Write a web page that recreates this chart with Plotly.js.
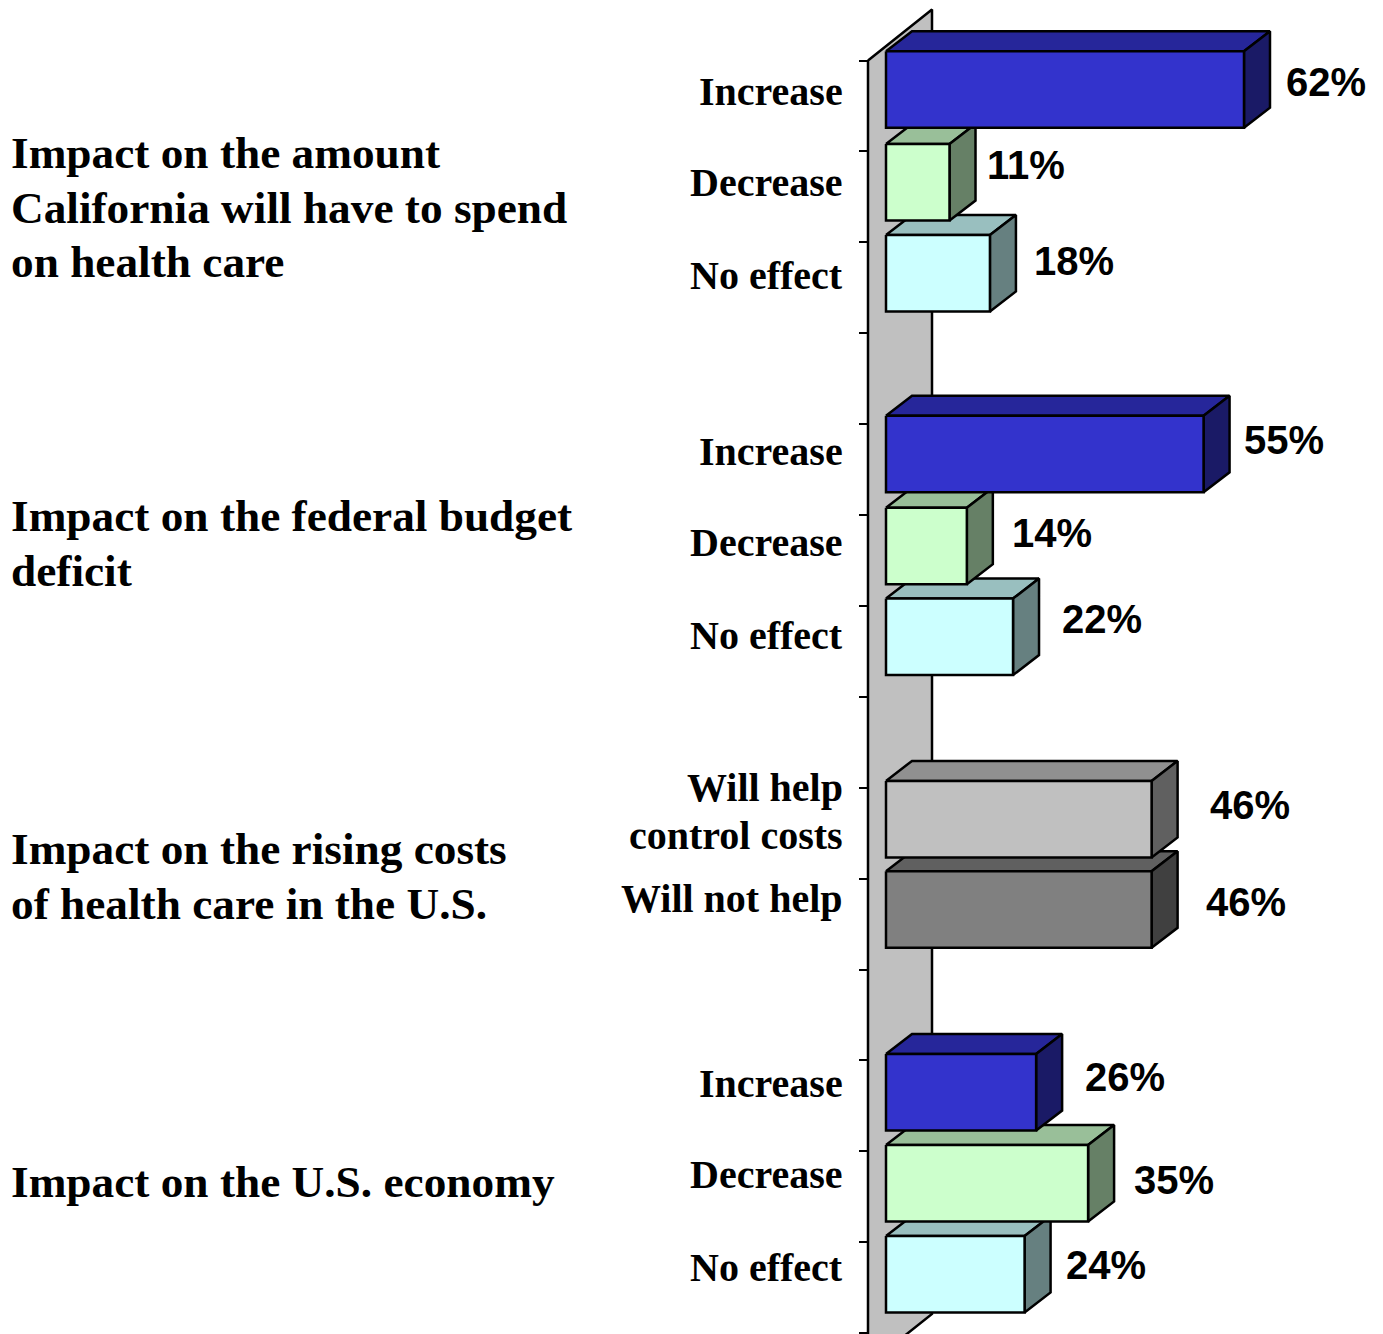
<!DOCTYPE html>
<html>
<head>
<meta charset="utf-8">
<style>html,body{margin:0;padding:0;background:#fff}#chart{width:1383px;height:1334px}</style>
<script src="https://cdn.plot.ly/plotly-3.0.1.min.js"></script>
</head>
<body>
<div id="chart"></div>
<script>
// ---- data ----
var rows    = [0, 1, 2, 4, 5, 6, 8, 9, 11, 12, 13];
var values  = [62, 11, 18, 55, 14, 22, 46, 46, 26, 35, 24];
var kinds   = ["up", "down", "none", "up", "down", "none", "help", "nohelp", "up", "down", "none"];
var titleLines = [
  ["Impact on the amount", 153], ["California will have to spend", 208], ["on health care", 262],
  ["Impact on the federal budget", 516.5], ["deficit", 571],
  ["Impact on the rising costs", 849], ["of health care in the U.S.", 904],
  ["Impact on the U.S. economy", 1182]
];
var catLabels = [
  ["Increase", 91.5], ["Decrease", 183], ["No effect", 276],
  ["Increase", 452], ["Decrease", 542.5], ["No effect", 636],
  ["Will help", 787.5], ["control costs", 836], ["Will not help", 898.5],
  ["Increase", 1083.5], ["Decrease", 1174.5], ["No effect", 1267.5]
];
// value label centres on the page, one per bar
var valueLabelX = [1326, 1026, 1074, 1284, 1052, 1102, 1250, 1246, 1125, 1174, 1106];
var valueLabelY = [82, 165, 261, 440, 533, 619, 805, 902, 1077, 1180, 1265];

// ---- styles ----
var palette = {
  up:     ["#3333CC", "#26269A", "#1A1A66"],
  down:   ["#CCFFCC", "#99BF99", "#668066"],
  none:   ["#CCFFFF", "#99BFBF", "#668080"],
  help:   ["#C0C0C0", "#909090", "#606060"],
  nohelp: ["#808080", "#606060", "#404040"]
};
var barNudgePx = [-2, 0, 0, -1, 0, 0, 0.5, 0, 1, 1, 1];
var W = 1383, H = 1334;
var PX_PER_PCT = 5.774, ZERO_PX = 886;      // value axis
var PX_PER_ROW = 90.9, ROW0_PX = 60.5;      // row axis
var pctOfPx = function (px) { return (px - ZERO_PX) / PX_PER_PCT; };
var rowOfPx = function (px) { return (px - ROW0_PX) / PX_PER_ROW; };

var DEPTH_X = 26 / PX_PER_PCT, DEPTH_Y = -20 / PX_PER_ROW;   // bar depth in axis units
var BAR_H = 76.5 / PX_PER_ROW, BAR_SHIFT = -14.5 / PX_PER_ROW;
var WALL_X0 = pctOfPx(868), WALL_DX = 64 / PX_PER_PCT, WALL_DY = -51 / PX_PER_ROW;

function poly(xs, ys, fill, name) {
  return { type: "scatter", mode: "lines", x: xs, y: ys, fill: "toself", fillcolor: fill,
           line: { color: "#000000", width: 2.5, simplify: false }, hoverinfo: "skip",
           showlegend: false, name: name, cliponaxis: true };
}

var traces = [];
// side wall of the 3-D frame
var wallEnd = 14.35;
traces.push(poly(
  [WALL_X0, WALL_X0 + WALL_DX, WALL_X0 + WALL_DX, WALL_X0, WALL_X0],
  [0, WALL_DY, wallEnd + WALL_DY, wallEnd, 0], "#C0C0C0", "wall"));

// bars, lowest first so that upper bars sit in front of the top faces below them
for (var i = rows.length - 1; i >= 0; i--) {
  var v = values[i], c = palette[kinds[i]];
  var mid = rows[i] + 0.5 + BAR_SHIFT + barNudgePx[i] / PX_PER_ROW;
  var t = mid - BAR_H / 2, b = mid + BAR_H / 2;
  traces.push(poly([0, DEPTH_X, v + DEPTH_X, v, 0],
                   [t, t + DEPTH_Y, t + DEPTH_Y, t, t], c[1], "top"));
  traces.push(poly([v, v + DEPTH_X, v + DEPTH_X, v, v],
                   [t, t + DEPTH_Y, b + DEPTH_Y, b, t], c[2], "side"));
  traces.push(poly([0, v, v, 0, 0], [t, t, b, b, t], c[0], "front"));
}

var annotations = [];
function addText(text, px, py, anchor, family, size) {
  annotations.push({ text: "<b>" + text + "</b>", xref: "paper", yref: "paper",
    x: px / W, y: 1 - py / H, xanchor: anchor, yanchor: "middle", showarrow: false,
    borderpad: 0, borderwidth: 0, font: { family: family, size: size, color: "#000000" } });
}
titleLines.forEach(function (l) { addText(l[0], 11, l[1], "left", "Liberation Serif", 45.3); });
catLabels.forEach(function (l) { addText(l[0], 842.5, l[1], "right", "Liberation Serif", 40); });
values.forEach(function (v, i) {
  addText(v + "%", valueLabelX[i], valueLabelY[i], "center", "Liberation Sans", 40);
});

var tickRows = [];
for (var k = 0; k <= 14; k++) tickRows.push(k);

var layout = {
  width: W, height: H, autosize: false,
  margin: { l: 0, r: 0, t: 0, b: 0, pad: 0 },
  paper_bgcolor: "#ffffff", plot_bgcolor: "#ffffff",
  showlegend: false,
  xaxis: { range: [pctOfPx(0), pctOfPx(W)], visible: false, fixedrange: true },
  yaxis: { range: [rowOfPx(H), rowOfPx(0)], fixedrange: true, showgrid: false, zeroline: false,
           showline: false, showticklabels: false, tickmode: "array", tickvals: tickRows,
           ticks: "outside", ticklen: 9, tickwidth: 2, tickcolor: "#000000",
           anchor: "free", position: 868 / W },
  annotations: annotations
};
Plotly.newPlot("chart", traces, layout, { displayModeBar: false, staticPlot: true });
</script>
</body>
</html>
